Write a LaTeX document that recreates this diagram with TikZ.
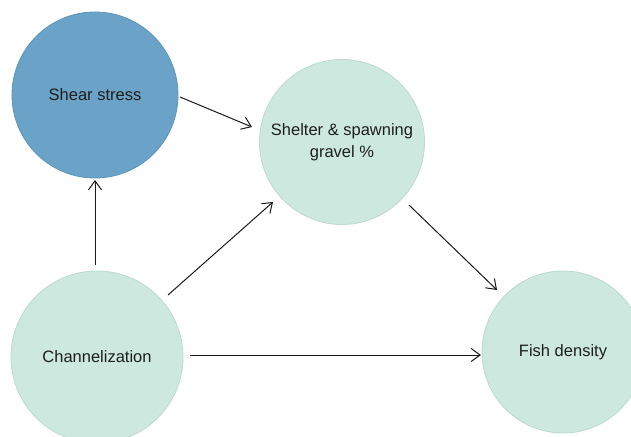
\documentclass[tikz,border=0pt]{standalone}
\usepackage{fontspec}
\setmainfont{Liberation Sans}
\usetikzlibrary{arrows.meta}
\definecolor{darkfill}{RGB}{106,163,199}
\definecolor{darkline}{RGB}{92,148,184}
\definecolor{lightfill}{RGB}{205,232,222}
\definecolor{lightline}{RGB}{188,218,206}
\definecolor{txt}{RGB}{30,30,30}
\begin{document}
\begin{tikzpicture}[x=1pt,y=-1pt,
  basecirc/.style={circle,inner sep=0pt,line width=0.8pt,text=txt,align=center,
    font=\fontsize{16.5}{22}\selectfont},
  darkcirc/.style={basecirc,fill=darkfill,draw=darkline},
  lightcirc/.style={basecirc,fill=lightfill,draw=lightline},
  conn/.style={line width=1pt,draw=black!90,-{Straight Barb[length=9pt,width=13pt,line width=1pt]}}]
\useasboundingbox (0,0) rectangle (631,436);
\node[darkcirc,minimum size=166pt] (shear) at (95,95) {Shear stress};
\node[lightcirc,minimum size=165pt] (shelter) at (342,142) {Shelter \& spawning\\gravel \%};
\node[lightcirc,minimum size=172pt] (chan) at (97,357) {Channelization};
\node[lightcirc,minimum size=162pt] (fish) at (563,352) {Fish density};
\coordinate (a1) at (180,97); \coordinate (a2) at (252,127);
\coordinate (b1) at (95,265); \coordinate (b2) at (95,180);
\coordinate (c1) at (168,295); \coordinate (c2) at (273,202);
\coordinate (d1) at (409,205); \coordinate (d2) at (497,290);
\coordinate (e1) at (190,355); \coordinate (e2) at (481,355);
\draw[conn] (a1) -- (a2);
\draw[conn] (b1) -- (b2);
\draw[conn] (c1) -- (c2);
\draw[conn] (d1) -- (d2);
\draw[conn] (e1) -- (e2);
\end{tikzpicture}
\end{document}
